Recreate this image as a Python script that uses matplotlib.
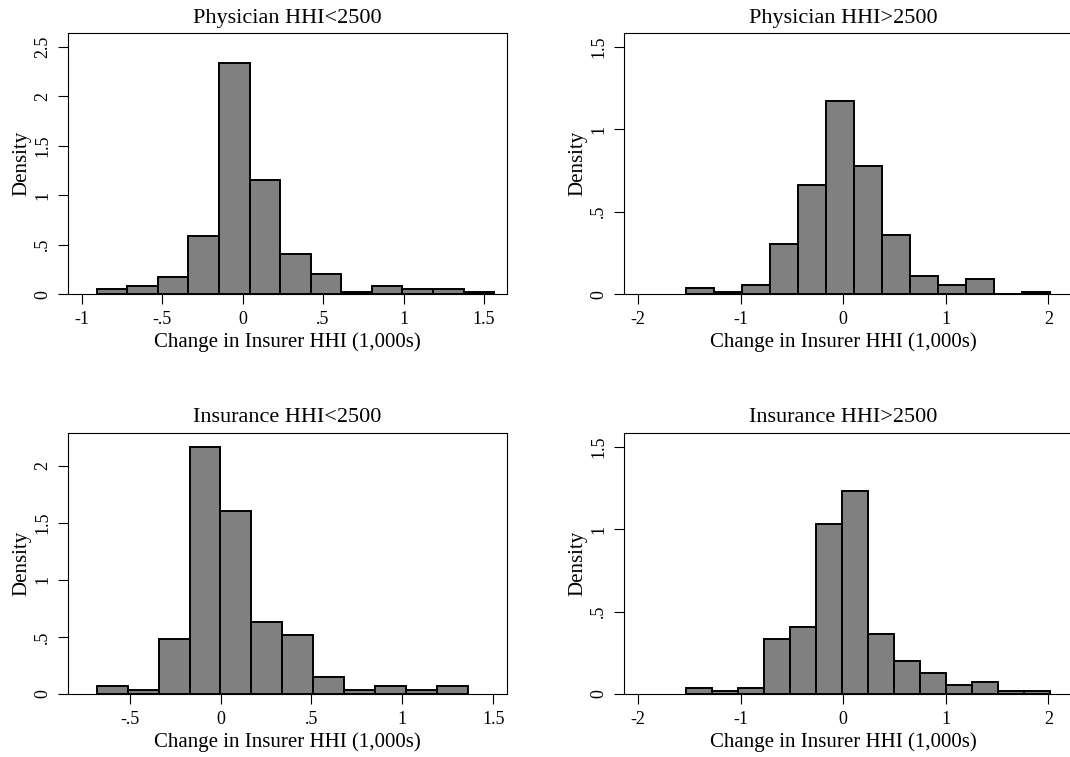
import matplotlib
matplotlib.use("Agg")
import matplotlib.pyplot as plt

plt.rcParams['font.family'] = ['Liberation Serif', 'DejaVu Serif']

# ---- data ----
titles = ["Physician HHI<2500", "Physician HHI>2500",
          "Insurance HHI<2500", "Insurance HHI>2500"]
x_label = "Change in Insurer HHI (1,000s)"
y_label = "Density"

# bin start and width for each panel
bin_start = [-0.907, -1.532, -0.681, -1.532]
bin_width = [0.190, 0.2729, 0.170, 0.2534]

dens_phys_lo = [0.057, 0.087, 0.178, 0.589, 2.34, 1.155, 0.41, 0.205,
                0.027, 0.087, 0.057, 0.057, 0.027]
dens_phys_hi = [0.038, 0.016, 0.056, 0.303, 0.662, 1.173, 0.778, 0.359,
                0.111, 0.056, 0.093, 0.0, 0.016]
dens_ins_lo = [0.073, 0.035, 0.484, 2.166, 1.605, 0.633, 0.519, 0.149,
               0.035, 0.073, 0.035, 0.073]
dens_ins_hi = [0.036, 0.018, 0.036, 0.332, 0.404, 1.031, 1.233, 0.366,
               0.202, 0.129, 0.056, 0.073, 0.018, 0.018]
densities = [dens_phys_lo, dens_phys_hi, dens_ins_lo, dens_ins_hi]

xticks = [[-1, -0.5, 0, 0.5, 1, 1.5], [-2, -1, 0, 1, 2],
          [-0.5, 0, 0.5, 1, 1.5], [-2, -1, 0, 1, 2]]
xticklabels = [["-1", "-.5", "0", ".5", "1", "1.5"], ["-2", "-1", "0", "1", "2"],
               ["-.5", "0", ".5", "1", "1.5"], ["-2", "-1", "0", "1", "2"]]
yticks = [[0, 0.5, 1, 1.5, 2, 2.5], [0, 0.5, 1, 1.5],
          [0, 0.5, 1, 1.5, 2], [0, 0.5, 1, 1.5]]
yticklabels = [["0", ".5", "1", "1.5", "2", "2.5"], ["0", ".5", "1", "1.5"],
               ["0", ".5", "1", "1.5", "2"], ["0", ".5", "1", "1.5"]]

# ---- layout ----
W, H = 1070, 757
fig = plt.figure(figsize=(W / 100, H / 100), dpi=100)

# pixel boxes: left, right, top, bottom
boxes = [(67.7, 507.3, 33.3, 294.3), (624, 1075, 33.3, 294.3),
         (67.7, 507.3, 432.7, 694), (624, 1075, 432.7, 694)]
xlims = [(-1.087, 1.645), (-2.136, 2.26), (-0.841, 1.577), (-2.136, 2.26)]
ylims = [(0, 2.636), (0, 1.582), (0, 2.288), (0, 1.585)]
center_px = [287.5, 843.5, 287.5, 843.5]

for i in range(4):
    l, r, t, b = boxes[i]
    hpx = b - t
    ax = fig.add_axes([l / W, (H - b) / H, (r - l) / W, hpx / H])
    n = len(densities[i])
    lefts = [bin_start[i] + k * bin_width[i] for k in range(n)]
    ax.bar(lefts, densities[i], width=bin_width[i], align='edge',
           color='#808080', edgecolor='black', linewidth=1.4, zorder=2)
    ax.set_xlim(*xlims[i])
    ax.set_ylim(*ylims[i])
    ax.set_xticks(xticks[i])
    ax.set_xticklabels(xticklabels[i])
    ax.set_yticks(yticks[i])
    ax.set_yticklabels(yticklabels[i], rotation=90, va='center')
    ax.tick_params(axis='both', direction='out', length=7, width=0.8,
                   labelsize=13, pad=5, color='black')
    for s in ax.spines.values():
        s.set_linewidth(0.8)
        s.set_color('black')
    cx = (center_px[i] - l) / (r - l)
    ax.text(cx, -53.0 / hpx, x_label, transform=ax.transAxes, ha='center',
            va='baseline', fontsize=15)
    ax.set_ylabel(y_label, fontsize=15, labelpad=2)
    ax.text(cx, 1 + 10.5 / hpx, titles[i], transform=ax.transAxes, ha='center',
            va='baseline', fontsize=16)

fig.savefig("out.png", dpi=100, facecolor='white')
